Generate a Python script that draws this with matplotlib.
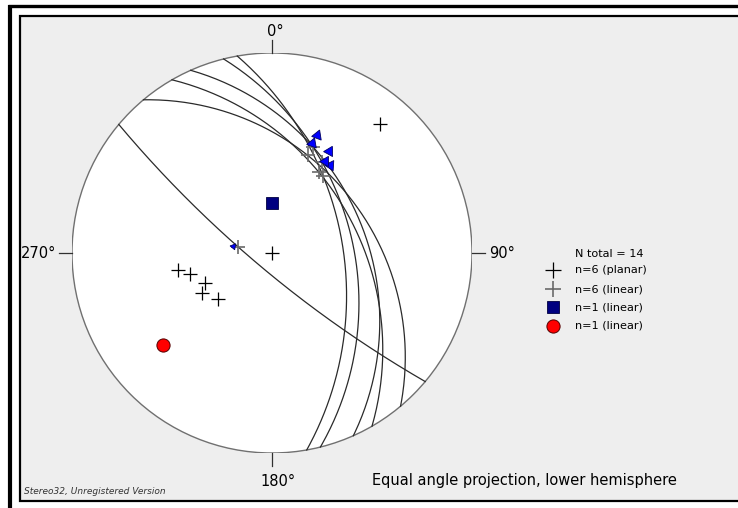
import numpy as np
import matplotlib
matplotlib.use("Agg")
import matplotlib.pyplot as plt
from matplotlib.patches import Rectangle, Circle

# ---------------- data (geological orientations) ----------------
# planes: dip direction / dip  (great circles + poles)
plane_dipdir = [80, 76, 66, 60, 50, 220]
plane_dip = [51, 46, 40, 44, 39, 80]
# fault-slip lineations on those planes: trend / plunge
lin_trend = [33.5, 29, 21, 30, 20, 280]
lin_plunge = [40.4, 35.2, 30.7, 39.9, 35.0, 70.6]
# other linear data
square_trend, square_plunge = [0], [62]
circle_trend, circle_plunge = [230], [19]

legend_labels = ["N total = 14", "n=6 (planar)", "n=6 (linear)",
                 "n=1 (linear)", "n=1 (linear)"]
dir_labels = ["0°", "90°", "180°", "270°"]


def proj(trend, plunge):
    t = np.radians(np.asarray(trend, float))
    p = np.radians(np.asarray(plunge, float))
    r = np.tan((np.pi / 2 - p) / 2)
    return r * np.sin(t), r * np.cos(t)


def great_circle(dd, dip, n=200):
    s = np.radians(dd - 90)
    d = np.radians(dd)
    dp = np.radians(dip)
    sv = np.array([np.cos(s), np.sin(s), 0.0])
    dv = np.array([np.cos(d) * np.cos(dp), np.sin(d) * np.cos(dp), np.sin(dp)])
    a = np.linspace(0, np.pi, n)
    v = np.outer(np.cos(a), sv) + np.outer(np.sin(a), dv)
    plunge = np.degrees(np.arcsin(np.clip(v[:, 2], -1, 1)))
    trend = np.degrees(np.arctan2(v[:, 1], v[:, 0]))
    return proj(trend, plunge)


W, H = 738, 508
fig = plt.figure(figsize=(W / 100, H / 100), dpi=100)
fig.patch.set_facecolor("white")

bg = fig.add_axes([0, 0, 1, 1])
bg.set_xlim(0, W)
bg.set_ylim(H, 0)
bg.axis("off")

# frames
bg.add_patch(Rectangle((20, 16), W, 485, facecolor="#eeeeee", edgecolor="black", lw=1.6, zorder=0))
bg.plot([10, 10], [5, H + 5], color="black", lw=3, solid_capstyle="butt")
bg.plot([8, W + 5], [5.5, 5.5], color="black", lw=2.4, solid_capstyle="butt")

# stereonet axes
cx, cy, R = 272, 253, 200
ax = fig.add_axes([(cx - R) / W, (H - cy - R) / H, 2 * R / W, 2 * R / H])
ax.set_xlim(-1, 1)
ax.set_ylim(-1, 1)
ax.axis("off")
ax.add_patch(Circle((0, 0), 1, facecolor="white", edgecolor="#707070", lw=1.0, zorder=1))

# cardinal ticks
tl = 13 / R
for ang in [0, 90, 180, 270]:
    a = np.radians(ang)
    ax.plot([np.sin(a), (1 + tl) * np.sin(a)], [np.cos(a), (1 + tl) * np.cos(a)],
            color="#303030", lw=0.9, clip_on=False)

# great circles
for dd, dip in zip(plane_dipdir, plane_dip):
    x, y = great_circle(dd, dip)
    ax.plot(x, y, color="#2a2a2a", lw=0.9, zorder=2)

# centre cross
ax.plot([0], [0], marker="+", ms=10, mew=0.9, color="black", zorder=3)

# poles of planes (black crosses)
px, py = proj(np.array(plane_dipdir) + 180, 90 - np.array(plane_dip))
ax.plot(px, py, ls="none", marker="+", ms=10, mew=0.9, color="black", zorder=4)

# lineations (gray crosses) + slip arrows (pointing outward)
lx, ly = proj(lin_trend, lin_plunge)
ax.plot(lx, ly, ls="none", marker="+", ms=10, mew=1.2, color="#6a6a6a", zorder=4)
for i, (x0, y0, t) in enumerate(zip(lx, ly, lin_trend)):
    rr = np.hypot(x0, y0)
    off = 0.065 if i < 5 else 0.025
    ms = 8.5 if i < 5 else 5
    ax.plot(x0 + off * x0 / rr, y0 + off * y0 / rr, marker=(3, 0, -t), ms=ms,
            color="#0000ff", mec="#000060", mew=0.6, ls="none", zorder=5)

# square & circle
sx, sy = proj(square_trend, square_plunge)
ax.plot(sx, sy, ls="none", marker="s", ms=9, color="#000080", mec="#000040", mew=0.6, zorder=5)
ccx, ccy = proj(circle_trend, circle_plunge)
ax.plot(ccx, ccy, ls="none", marker="o", ms=9.5, color="#ff0000", mec="#500000", mew=0.7, zorder=5)

# direction labels
fs = 10.5
bg.text(275, 31, dir_labels[0], ha="center", va="center", fontsize=fs)
bg.text(489, 253, dir_labels[1], ha="left", va="center", fontsize=fs)
bg.text(278, 481, dir_labels[2], ha="center", va="center", fontsize=fs)
bg.text(56, 253, dir_labels[3], ha="right", va="center", fontsize=fs)

# legend
lx0, tx0 = 553, 575
rows = [254, 270, 289, 307, 326]
lfs = 8.1
bg.text(tx0, rows[0], legend_labels[0], ha="left", va="center", fontsize=lfs)
bg.plot(lx0, rows[1], marker="+", ms=11, mew=0.9, color="black")
bg.plot(lx0, rows[2], marker="+", ms=11, mew=1.2, color="#6a6a6a")
bg.plot(lx0, rows[3], marker="s", ms=9, color="#000080", mec="#000040", mew=0.6)
bg.plot(lx0, rows[4], marker="o", ms=9.5, color="#ff0000", mec="#500000", mew=0.7)
for r_, lab in zip(rows[1:], legend_labels[1:]):
    bg.text(tx0, r_, lab, ha="left", va="center", fontsize=lfs)

bg.text(372, 481, "Equal angle projection, lower hemisphere", ha="left", va="center", fontsize=10.5)
bg.text(24, 491, "Stereo32, Unregistered Version", ha="left", va="center",
        fontsize=6.5, style="italic", color="#333333")

fig.savefig("out.png", dpi=100)
